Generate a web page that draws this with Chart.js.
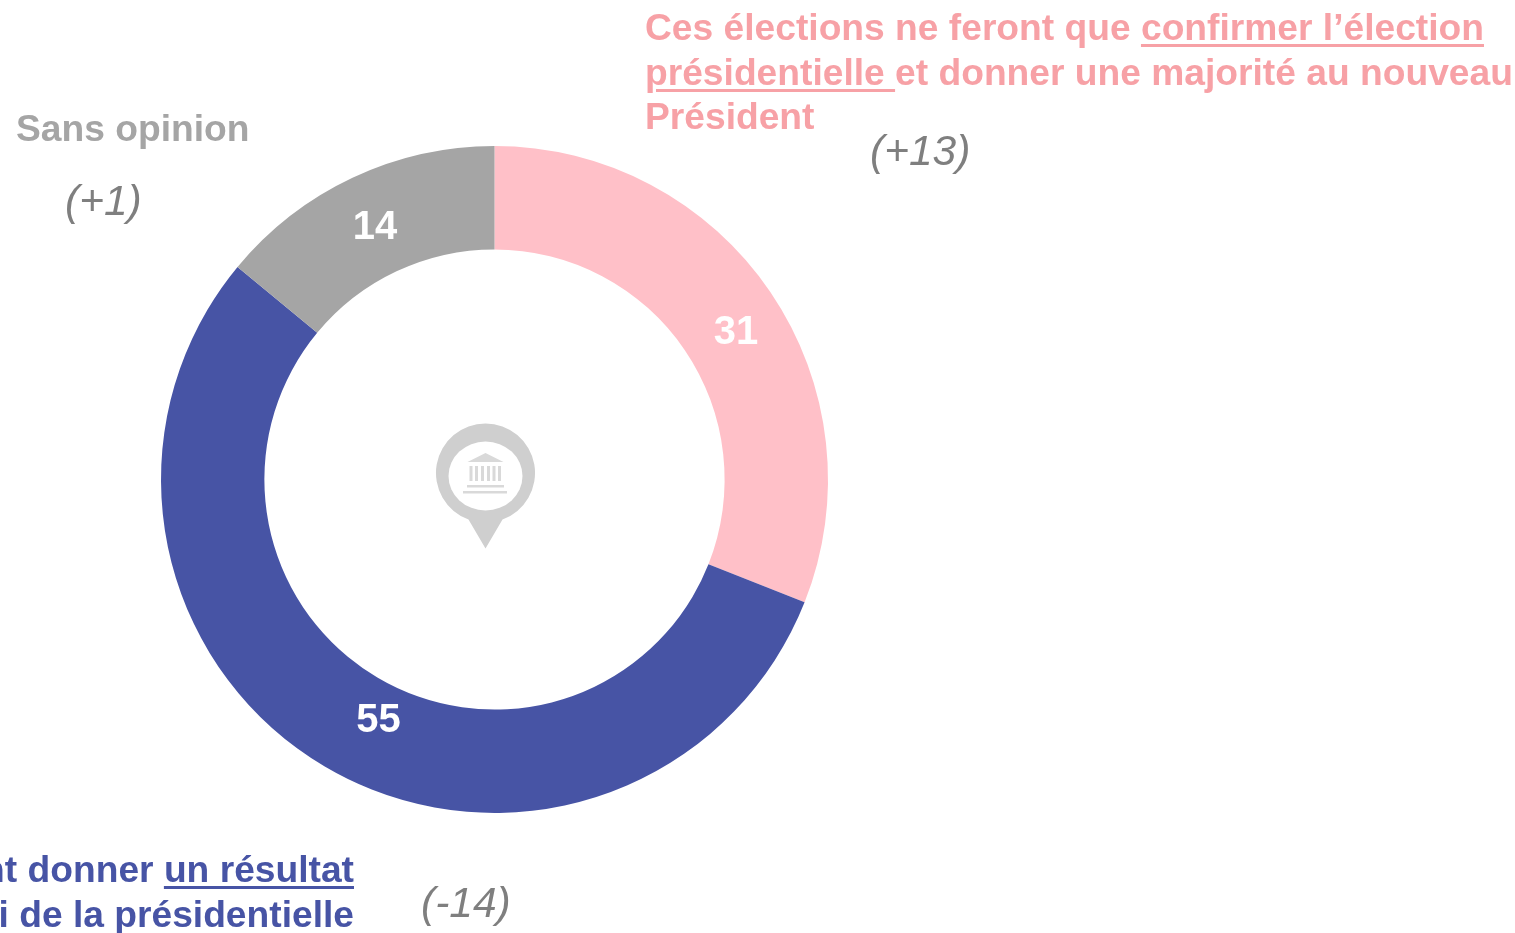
<!DOCTYPE html>
<html><head><meta charset="utf-8">
<script src="https://cdn.jsdelivr.net/npm/chart.js@4"></script>
<style>
html,body{margin:0;padding:0;background:#fff;width:1515px;height:933px;overflow:hidden}
#c{position:absolute;left:0;top:0}
.t{position:absolute;font-family:"Liberation Sans",Arial,sans-serif;font-weight:bold;font-size:37.2px;line-height:44.5px;white-space:nowrap}
.i{position:absolute;font-family:"Liberation Sans",Arial,sans-serif;font-style:italic;font-size:42.5px;color:#7f7f7f;white-space:nowrap}
u{text-decoration-thickness:3px;text-underline-offset:4px}
</style></head><body>
<canvas id="c" width="1515" height="933"></canvas>
<div class="t" style="left:645px;top:5px;color:#f7a1a6">Ces élections ne feront que <u>confirmer l’élection</u><br><u>présidentielle </u>et donner une majorité au nouveau<br>Président</div>
<div class="t" style="left:16px;top:106px;color:#a5a5a5">Sans opinion</div>
<div class="t" style="right:1161px;top:847px;color:#4754a5;text-align:right">Ces élections peuvent donner <u>un résultat</u><br>différent de celui de la présidentielle</div>
<div class="i" style="left:870px;top:127px">(+13)</div>
<div class="i" style="left:65px;top:177px">(+1)</div>
<div class="i" style="left:421px;top:879px">(-14)</div>
<svg style="position:absolute;left:435px;top:423px" width="102" height="127" viewBox="0 0 102 127">
<path d="M50.500 0.500a49.500 49.500 0 0 1 17 96L50.500 125.500 33.500 96.500A49.500 49.500 0 0 1 50.500 0.500z" fill="#cfcfcf"/>
<ellipse cx="50.500" cy="53" rx="37" ry="34.500" fill="#fff"/>
<g fill="#d9d9d9"><path d="M50.500 30l18 9H32.500z"/><rect x="34.500" y="43" width="3" height="15"/><rect x="40" y="43" width="3" height="15"/><rect x="46" y="43" width="3" height="15"/><rect x="52" y="43" width="3" height="15"/><rect x="57.500" y="43" width="3" height="15"/><rect x="63" y="43" width="3" height="15"/><rect x="32" y="62" width="37" height="2.500"/><rect x="28" y="68" width="44" height="2.500"/></g>
</svg>
<script>
const categories=["Ces élections ne feront que confirmer l’élection présidentielle","Ces élections peuvent donner un résultat différent","Sans opinion"];
const seriesValues=[31,55,14];
const sliceColors=["#ffc0c8","#4754a5","#a5a5a5"];
const labelNudgeX=[8.500,27.500,0.500];
const labelNudgeY=[10,-3,1];
const valueLabels={id:'valueLabels',afterDatasetsDraw(ch){const g=ch.ctx,m=ch.getDatasetMeta(0);
 g.save();g.fillStyle='#fff';g.font='bold 40px "Liberation Sans",Arial,sans-serif';g.textAlign='center';g.textBaseline='middle';
 m.data.forEach((a,i)=>{const p=a.tooltipPosition();g.fillText(String(seriesValues[i]),p.x+labelNudgeX[i],p.y+2+labelNudgeY[i])});g.restore();}};
new Chart(document.getElementById('c'),{type:'doughnut',
 data:{labels:categories,datasets:[{data:seriesValues,backgroundColor:sliceColors,borderWidth:0}]},
 options:{responsive:false,animation:false,cutout:'69%',
  layout:{padding:{left:161,top:146,right:1515-828,bottom:933-813}},
  plugins:{legend:{display:false},tooltip:{enabled:false}}},
 plugins:[valueLabels]});
</script>
</body></html>
